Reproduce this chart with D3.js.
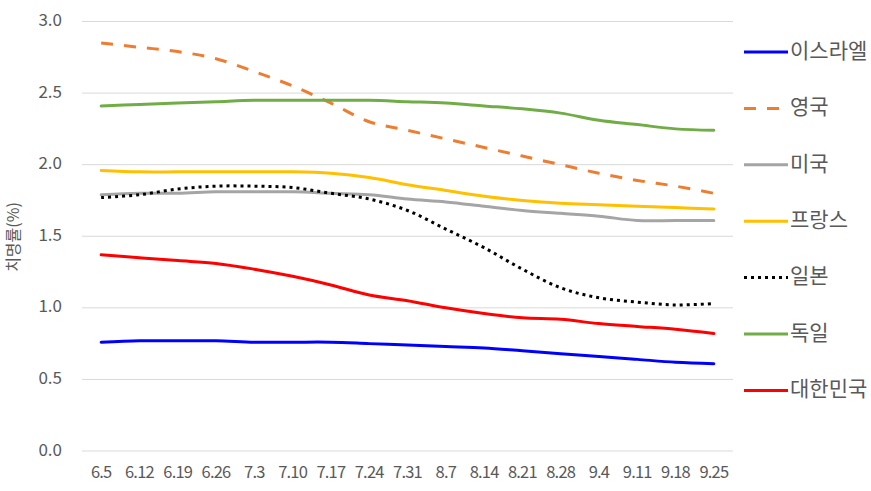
<!DOCTYPE html>
<html>
<head>
<meta charset="utf-8">
<script src="https://cdn.jsdelivr.net/npm/d3@7"></script>
<style>
  body { margin: 0; background: #fff; }
  svg text { font-family: "Noto Sans CJK KR", "Noto Sans", sans-serif; fill: #595959; }
</style>
</head>
<body>
<svg id="chart" width="871" height="491"></svg>
<script>
// x categories (dates)
const dates = ["6.5", "6.12", "6.19", "6.26", "7.3", "7.10", "7.17", "7.24", "7.31",
  "8.7", "8.14", "8.21", "8.28", "9.4", "9.11", "9.18", "9.25"];
const yTicks = [0, 0.5, 1.0, 1.5, 2.0, 2.5, 3.0];

// case fatality rate (%) per country
const israel  = [0.76, 0.77, 0.77, 0.77, 0.76, 0.76, 0.76, 0.75, 0.74, 0.73, 0.72, 0.70, 0.68, 0.66, 0.64, 0.62, 0.61];
const uk      = [2.85, 2.82, 2.79, 2.74, 2.65, 2.55, 2.43, 2.30, 2.24, 2.18, 2.12, 2.06, 2.00, 1.94, 1.89, 1.85, 1.80];
const usa     = [1.79, 1.80, 1.80, 1.81, 1.81, 1.81, 1.80, 1.79, 1.76, 1.74, 1.71, 1.68, 1.66, 1.64, 1.61, 1.61, 1.61];
const france  = [1.96, 1.95, 1.95, 1.95, 1.95, 1.95, 1.94, 1.91, 1.86, 1.82, 1.78, 1.75, 1.73, 1.72, 1.71, 1.70, 1.69];
const japan   = [1.77, 1.79, 1.83, 1.85, 1.85, 1.84, 1.80, 1.76, 1.68, 1.55, 1.42, 1.27, 1.14, 1.07, 1.04, 1.02, 1.03];
const germany = [2.41, 2.42, 2.43, 2.44, 2.45, 2.45, 2.45, 2.45, 2.44, 2.43, 2.41, 2.39, 2.36, 2.31, 2.28, 2.25, 2.24];
const korea   = [1.37, 1.35, 1.33, 1.31, 1.27, 1.22, 1.16, 1.09, 1.05, 1.00, 0.96, 0.93, 0.92, 0.89, 0.87, 0.85, 0.82];

const series = [
  {name: "이스라엘", values: israel,  color: "#0000ff", dash: null},
  {name: "영국",     values: uk,      color: "#ed7d31", dash: "12,11"},
  {name: "미국",     values: usa,     color: "#a5a5a5", dash: null},
  {name: "프랑스",   values: france,  color: "#ffc000", dash: null},
  {name: "일본",     values: japan,   color: "#000000", dash: "3,4"},
  {name: "독일",     values: germany, color: "#70ad47", dash: null},
  {name: "대한민국", values: korea,   color: "#ff0000", dash: null}
];

let svg = d3.select("#chart");

let plotLeft = 82, plotRight = 733, plotTop = 21.5, plotBottom = 451;

let xScale = d3.scalePoint()
  .domain(dates)
  .range([plotLeft, plotRight])
  .padding(0.5);

let yScale = d3.scaleLinear()
  .domain([0, 3])
  .range([plotBottom, plotTop]);

// horizontal gridlines
svg.selectAll(".grid")
  .data(yTicks)
  .enter()
  .append("line")
  .attr("x1", plotLeft)
  .attr("x2", plotRight)
  .attr("y1", d => yScale(d))
  .attr("y2", d => yScale(d))
  .style("stroke", "#d9d9d9")
  .style("stroke-width", 1);

// y tick labels
svg.selectAll(".ylab")
  .data(yTicks)
  .enter()
  .append("text")
  .attr("x", 62)
  .attr("y", d => yScale(d))
  .attr("text-anchor", "end")
  .attr("dominant-baseline", "middle")
  .style("font-size", "17px")
  .text(d => d.toFixed(1));

// x tick labels
svg.selectAll(".xlab")
  .data(dates)
  .enter()
  .append("text")
  .attr("x", d => xScale(d))
  .attr("y", 478)
  .attr("text-anchor", "middle")
  .style("font-size", "16.5px")
  .style("letter-spacing", "-0.8px")
  .text(d => d);

// y axis title
svg.append("text")
  .attr("transform", "translate(15, 237) rotate(-90)")
  .attr("text-anchor", "middle")
  .attr("dominant-baseline", "middle")
  .style("font-size", "16px")
  .text("치명률(%)");

// lines
let line = d3.line()
  .x((d, i) => xScale(dates[i]))
  .y(d => yScale(d))
  .curve(d3.curveCatmullRom);

svg.selectAll(".series")
  .data(series)
  .enter()
  .append("path")
  .attr("d", d => line(d.values))
  .style("fill", "none")
  .style("stroke", d => d.color)
  .style("stroke-width", 3)
  .style("stroke-dasharray", d => d.dash)
  .style("stroke-linecap", d => d.dash ? "butt" : "round");

// legend
let legend = svg.selectAll(".legend")
  .data(series)
  .enter()
  .append("g")
  .attr("transform", (d, i) => "translate(744, " + (52 + i * 56.4) + ")");

legend.append("line")
  .attr("x1", 0)
  .attr("x2", 44)
  .style("stroke", d => d.color)
  .style("stroke-width", 3)
  .style("stroke-dasharray", d => d.dash);

legend.append("text")
  .attr("x", 46)
  .attr("dominant-baseline", "middle")
  .style("font-size", "21px")
  .text(d => d.name);
</script>
</body>
</html>
